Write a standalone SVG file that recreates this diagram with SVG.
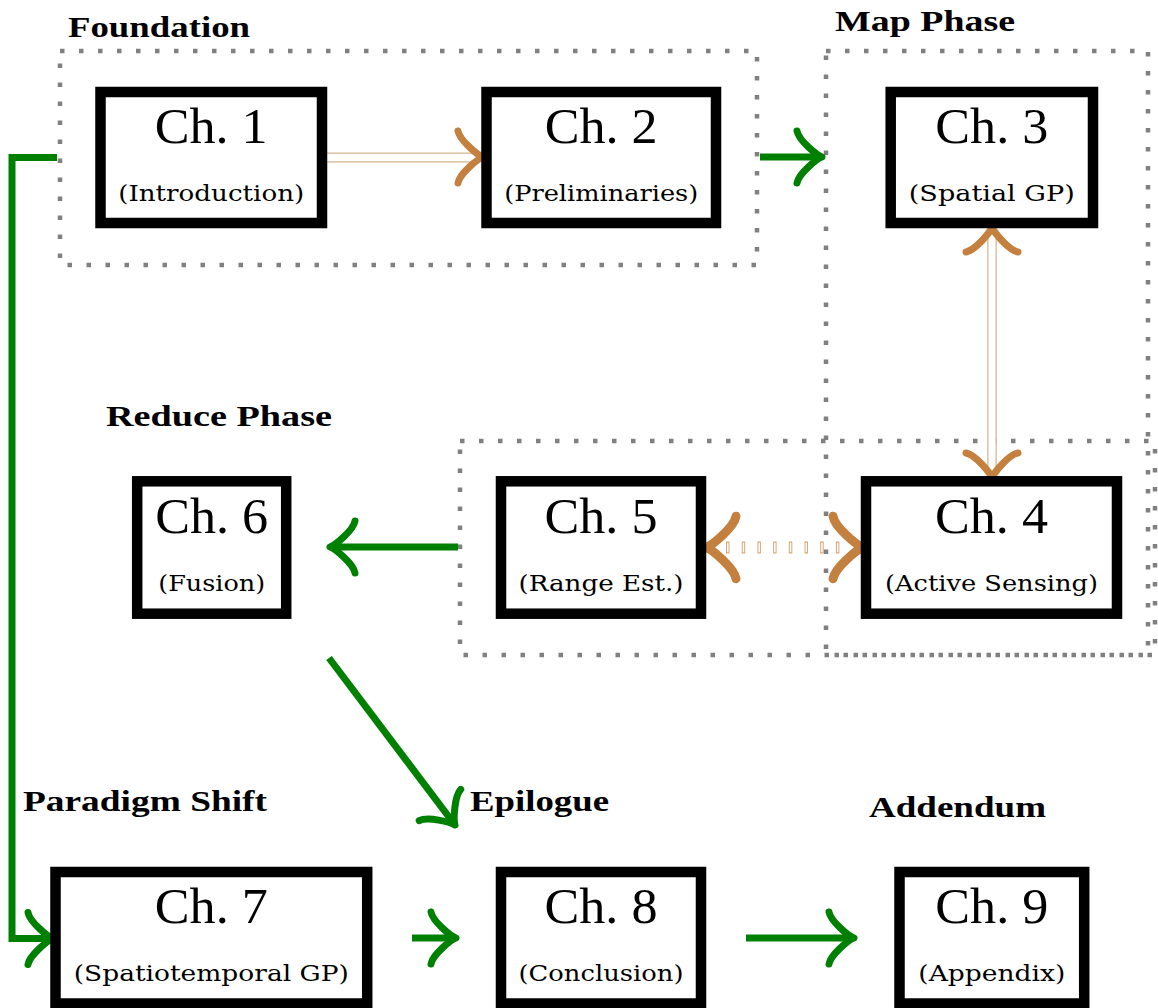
<svg xmlns="http://www.w3.org/2000/svg" xmlns:xlink="http://www.w3.org/1999/xlink" width="1158" height="1008" viewBox="0 0 1158 1008">
<style>
.box{fill:#fff;stroke:#000;stroke-width:10.5}
.ttl{font-family:"Liberation Serif","DejaVu Serif",serif;font-size:50px;text-anchor:middle;fill:#000}
.sub{font-family:"DejaVu Serif","Liberation Serif",serif;font-size:22px;text-anchor:middle;fill:#000}
.lbl{font-family:"Liberation Serif","DejaVu Serif",serif;font-size:29px;font-weight:bold;fill:#000}
.grp{fill:none;stroke:#808080;stroke-width:4.5;stroke-dasharray:4.5 14.5}
.gl{fill:none;stroke:#008000;stroke-width:7}
.gh{fill:none;stroke:#008000;stroke-width:7;stroke-linecap:round;stroke-linejoin:round}
.oh{fill:none;stroke:#c3803e;stroke-width:7;stroke-linecap:round;stroke-linejoin:round}
.oh2{fill:none;stroke:#c3803e;stroke-width:7.5;stroke-linecap:round;stroke-linejoin:round}
</style>
<defs>
<path id="ah" d="M -25,-26 C -23.4,-16.7 -5,-1.7 0,0 C -5,1.7 -23.4,16.7 -25,26"/>
</defs>
<rect width="1158" height="1008" fill="#fff"/>
<g id="groups">
<rect class="grp" x="60" y="51" width="697" height="214"/>
<rect class="grp" x="826" y="51" width="322" height="604"/>
<rect class="grp" x="460" y="441" width="695" height="214"/>
<text class="lbl" x="68" y="37" textLength="182" lengthAdjust="spacingAndGlyphs">Foundation</text>
<text class="lbl" x="835" y="31" textLength="180" lengthAdjust="spacingAndGlyphs">Map Phase</text>
<text class="lbl" x="106" y="426" textLength="226" lengthAdjust="spacingAndGlyphs">Reduce Phase</text>
<text class="lbl" x="23" y="811" textLength="244" lengthAdjust="spacingAndGlyphs">Paradigm Shift</text>
<text class="lbl" x="470" y="811" textLength="139" lengthAdjust="spacingAndGlyphs">Epilogue</text>
<text class="lbl" x="869" y="817" textLength="177" lengthAdjust="spacingAndGlyphs">Addendum</text>
</g>
<g id="connectors">
<!-- Ch1 -> Ch2 double -->
<line x1="324" y1="157.5" x2="480" y2="157.5" stroke="#d4b48e" stroke-width="10"/>
<line x1="325" y1="157.5" x2="480" y2="157.5" stroke="#fff" stroke-width="7.5"/>
<use xlink:href="#ah" class="oh" transform="translate(483,157)"/>
<!-- Ch2 -> Ch3 -->
<line class="gl" x1="760" y1="157" x2="818" y2="157"/>
<use xlink:href="#ah" class="gh" transform="translate(822,157)"/>
<!-- Ch3 <-> Ch4 double -->
<line x1="992" y1="232" x2="992" y2="474" stroke="#d4b48e" stroke-width="9.5"/>
<line x1="992" y1="232" x2="992" y2="474" stroke="#fff" stroke-width="7"/>
<use xlink:href="#ah" class="oh" transform="translate(992,227) rotate(-90)"/>
<use xlink:href="#ah" class="oh" transform="translate(992,478) rotate(90)"/>
<!-- Ch4 <-> Ch5 dotted double -->
<line x1="726" y1="547.5" x2="842" y2="547.5" stroke="#d9a878" stroke-width="12" stroke-dasharray="3.5 12.2"/>
<line x1="727" y1="547.5" x2="842" y2="547.5" stroke="#fff" stroke-width="9.5" stroke-dasharray="1.5 14.2"/>
<use xlink:href="#ah" class="oh2" transform="translate(706,547.5) rotate(180) scale(1.2)"/>
<use xlink:href="#ah" class="oh2" transform="translate(863,547.5) scale(1.2)"/>
<!-- Ch5 -> Ch6 -->
<line class="gl" x1="458" y1="547" x2="334" y2="547"/>
<use xlink:href="#ah" class="gh" transform="translate(330,547) rotate(180)"/>
<!-- Ch6 -> Ch8 (Epilogue) -->
<line class="gl" x1="329" y1="658" x2="452" y2="821"/>
<use xlink:href="#ah" class="gh" transform="translate(455,825) rotate(53)"/>
<!-- Ch1 -> Ch7 elbow -->
<polyline class="gl" points="57,157.5 12,157.5 12,938.5 49,938.5"/>
<use xlink:href="#ah" class="gh" transform="translate(53,938.5)"/>
<!-- Ch7 -> Ch8 -->
<line class="gl" x1="412" y1="938" x2="452" y2="938"/>
<use xlink:href="#ah" class="gh" transform="translate(456,938)"/>
<!-- Ch8 -> Ch9 -->
<line class="gl" x1="746" y1="938" x2="850" y2="938"/>
<use xlink:href="#ah" class="gh" transform="translate(854,938)"/>
</g>
<g id="ch1">
<rect class="box" x="100.5" y="92" width="221.5" height="131"/>
<text class="ttl" x="211.2" y="142.7" textLength="113" lengthAdjust="spacingAndGlyphs">Ch. 1</text>
<text class="sub" x="211.2" y="201" textLength="186" lengthAdjust="spacingAndGlyphs">(Introduction)</text>
</g>
<g id="ch2">
<rect class="box" x="486.5" y="92" width="229.5" height="131"/>
<text class="ttl" x="601.2" y="142.7" textLength="113" lengthAdjust="spacingAndGlyphs">Ch. 2</text>
<text class="sub" x="601.2" y="201" textLength="194" lengthAdjust="spacingAndGlyphs">(Preliminaries)</text>
</g>
<g id="ch3">
<rect class="box" x="890.7" y="92" width="202.3" height="131"/>
<text class="ttl" x="991.8" y="142.7" textLength="113" lengthAdjust="spacingAndGlyphs">Ch. 3</text>
<text class="sub" x="991.8" y="201" textLength="166" lengthAdjust="spacingAndGlyphs">(Spatial GP)</text>
</g>
<g id="ch4">
<rect class="box" x="866" y="481.3" width="251" height="132.4"/>
<text class="ttl" x="991.5" y="533" textLength="113" lengthAdjust="spacingAndGlyphs">Ch. 4</text>
<text class="sub" x="991.5" y="591" textLength="213" lengthAdjust="spacingAndGlyphs">(Active Sensing)</text>
</g>
<g id="ch5">
<rect class="box" x="501" y="481.3" width="200" height="132.4"/>
<text class="ttl" x="601" y="533" textLength="113" lengthAdjust="spacingAndGlyphs">Ch. 5</text>
<text class="sub" x="601" y="591" textLength="165" lengthAdjust="spacingAndGlyphs">(Range Est.)</text>
</g>
<g id="ch6">
<rect class="box" x="137.2" y="481.3" width="149" height="132.4"/>
<text class="ttl" x="211.7" y="533" textLength="113" lengthAdjust="spacingAndGlyphs">Ch. 6</text>
<text class="sub" x="211.7" y="591" textLength="107" lengthAdjust="spacingAndGlyphs">(Fusion)</text>
</g>
<g id="ch7">
<rect class="box" x="55.5" y="872" width="311.7" height="131.5"/>
<text class="ttl" x="211.3" y="923" textLength="113" lengthAdjust="spacingAndGlyphs">Ch. 7</text>
<text class="sub" x="211.3" y="981" textLength="275" lengthAdjust="spacingAndGlyphs">(Spatiotemporal GP)</text>
</g>
<g id="ch8">
<rect class="box" x="501" y="872" width="200" height="131.5"/>
<text class="ttl" x="601" y="923" textLength="113" lengthAdjust="spacingAndGlyphs">Ch. 8</text>
<text class="sub" x="601" y="981" textLength="165" lengthAdjust="spacingAndGlyphs">(Conclusion)</text>
</g>
<g id="ch9">
<rect class="box" x="899.5" y="872" width="184.7" height="131.5"/>
<text class="ttl" x="991.8" y="923" textLength="113" lengthAdjust="spacingAndGlyphs">Ch. 9</text>
<text class="sub" x="991.8" y="981" textLength="147" lengthAdjust="spacingAndGlyphs">(Appendix)</text>
</g>
</svg>
